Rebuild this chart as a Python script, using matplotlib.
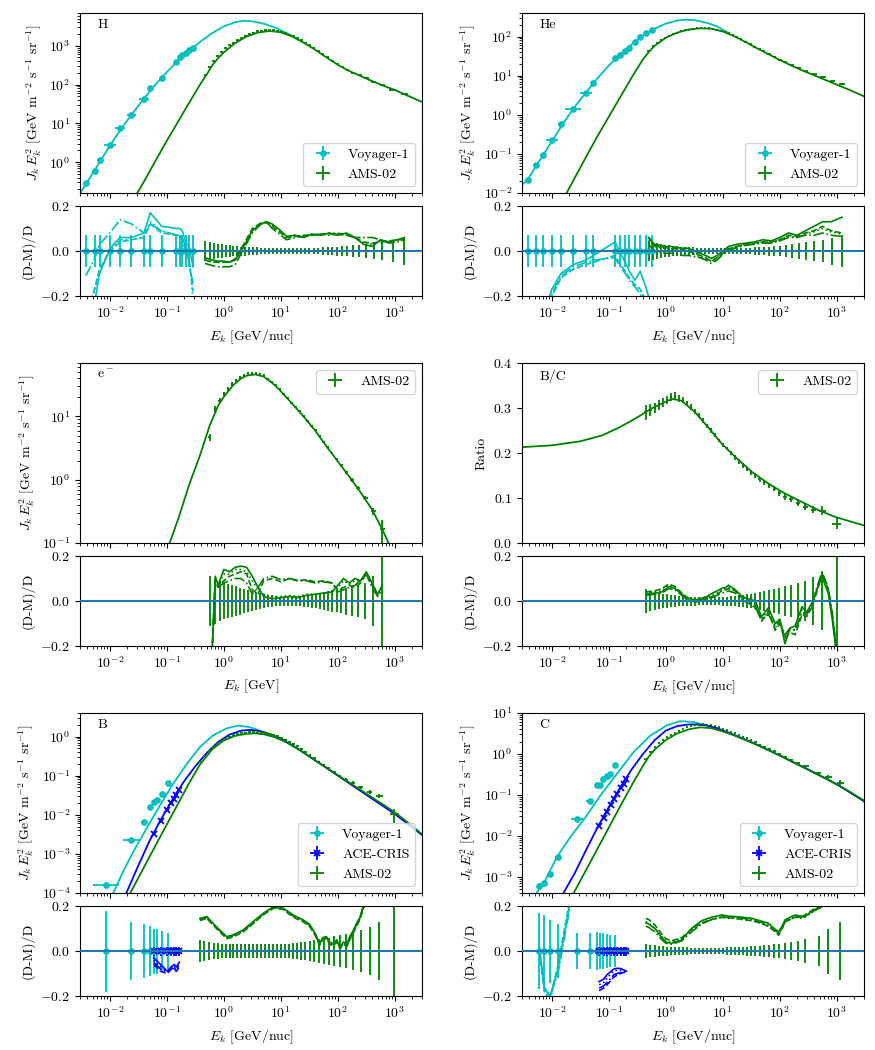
"""
Cosmic-ray spectra: data vs. propagation models, with (D-M)/D residuals
"""

import numpy as np
import matplotlib.pyplot as plt
from matplotlib import ticker

plt.rcParams.update({
    "font.family": "serif",
    "font.serif": ["cmr10"],
    "mathtext.fontset": "cm",
    "axes.formatter.use_mathtext": True,
    "font.size": 10,
})

VOY, ACE, AMS = "c", "b", "g"
MODEL_STYLES = ["-", "--", "-.", ":"]

# ---------------------------------------------------------------- H
H_voy_logE = [-2.42, -2.26, -2.18, -2.00, -1.82, -1.62, -1.40, -1.29, -1.09, -0.83, -0.77, -0.73, -0.67, -0.61, -0.54]
H_voy_logJ = [-0.54, -0.22, 0.06, 0.45, 0.88, 1.22, 1.64, 1.90, 2.18, 2.59, 2.70, 2.76, 2.82, 2.89, 2.93]
H_voy_err = [0.07] * 15
H_voy_dlogE = [0.05, 0.05, 0.04, 0.10, 0.09, 0.08, 0.08, 0.04, 0.05, 0.04, 0.03, 0.03, 0.03, 0.03, 0.03]
H_voy_res = [
    [-0.45, -0.22, -0.10, 0.01, 0.06, 0.06, 0.08, 0.17, 0.11, 0.10, 0.10, 0.09, 0.04, 0.02, -0.07],
    [-0.30, -0.16, -0.08, 0.00, 0.04, 0.05, 0.06, 0.12, 0.08, 0.07, 0.07, 0.05, 0.00, -0.04, -0.18],
    [-0.11, -0.03, 0.03, 0.08, 0.14, 0.12, 0.08, 0.12, 0.09, 0.07, 0.06, 0.06, 0.02, -0.05, -0.15],
    [-0.28, -0.17, -0.09, 0.00, 0.05, 0.05, 0.06, 0.13, 0.09, 0.07, 0.07, 0.06, 0.01, -0.03, -0.22],
]
H_voy_mod_logE = [-2.52, -2.4, -2.2, -2.0, -1.8, -1.6, -1.4, -1.2, -1.0, -0.8, -0.6, -0.4, -0.2, 0.0, 0.2, 0.35, 0.5, 0.7, 0.9, 1.1, 1.3]
H_voy_mod_logJ = [-0.80, -0.52, -0.05, 0.42, 0.86, 1.26, 1.64, 2.0, 2.32, 2.62, 2.88, 3.12, 3.33, 3.50, 3.61, 3.645, 3.63, 3.57, 3.47, 3.33, 3.17]

H_ams_logE = [-0.33, -0.25, -0.18, -0.11, -0.04, 0.03, 0.10, 0.17, 0.24, 0.31,
              0.38, 0.45, 0.52, 0.59, 0.66, 0.73, 0.80, 0.87, 0.94, 1.01,
              1.08, 1.15, 1.22, 1.29, 1.36, 1.43, 1.50, 1.58, 1.66, 1.74,
              1.82, 1.90, 1.99, 2.08, 2.17, 2.27, 2.38, 2.50, 2.63, 2.78, 2.96, 3.17]
H_ams_logJ = [2.24, 2.44, 2.60, 2.74, 2.85, 2.93, 3.01, 3.08, 3.14, 3.20,
              3.26, 3.30, 3.34, 3.37, 3.39, 3.40, 3.41, 3.40, 3.38, 3.36,
              3.33, 3.29, 3.25, 3.19, 3.14, 3.08, 3.02, 2.95, 2.87, 2.79,
              2.70, 2.62, 2.53, 2.45, 2.38, 2.31, 2.24, 2.16, 2.07, 1.98, 1.87, 1.75]
H_ams_err = [0.045, 0.04, 0.035, 0.03, 0.03, 0.028, 0.026, 0.024, 0.022, 0.02,
             0.02, 0.018, 0.017, 0.016, 0.015, 0.015, 0.014, 0.014, 0.013, 0.013,
             0.013, 0.013, 0.013, 0.013, 0.013, 0.013, 0.014, 0.014, 0.015, 0.016,
             0.017, 0.018, 0.02, 0.022, 0.024, 0.026, 0.028, 0.032, 0.036, 0.042, 0.05, 0.06]
H_ams_res_logE = [-0.33, -0.2, -0.1, 0.0, 0.1, 0.2, 0.35, 0.5, 0.65, 0.75, 0.85, 1.0, 1.1, 1.25,
                  1.4, 1.55, 1.7, 1.85, 2.0, 2.15, 2.3, 2.45, 2.6, 2.75, 2.9, 3.05, 3.17]
H_ams_res = [
    [-0.03, -0.04, -0.045, -0.045, -0.05, -0.04, 0.02, 0.09, 0.12, 0.13, 0.12, 0.09, 0.065, 0.07,
     0.06, 0.075, 0.07, 0.08, 0.07, 0.08, 0.06, 0.03, 0.02, 0.05, 0.04, 0.05, 0.06],
    [-0.04, -0.05, -0.05, -0.05, -0.05, -0.035, 0.03, 0.10, 0.125, 0.125, 0.11, 0.08, 0.06, 0.065,
     0.07, 0.07, 0.075, 0.075, 0.08, 0.07, 0.06, 0.04, 0.035, 0.04, 0.045, 0.05, 0.05],
    [-0.055, -0.065, -0.07, -0.07, -0.07, -0.06, 0.01, 0.08, 0.12, 0.13, 0.10, 0.07, 0.05, 0.06,
     0.065, 0.07, 0.075, 0.07, 0.075, 0.07, 0.06, 0.06, 0.06, 0.05, 0.035, 0.04, 0.05],
    [-0.04, -0.045, -0.05, -0.05, -0.05, -0.04, 0.025, 0.09, 0.12, 0.13, 0.115, 0.085, 0.06, 0.07,
     0.065, 0.075, 0.07, 0.08, 0.075, 0.075, 0.06, 0.035, 0.03, 0.045, 0.04, 0.05, 0.055],
]
H_ams_mod_logE = [-1.52, -1.4, -1.2, -1.0, -0.8, -0.6, -0.4, -0.3, -0.2, -0.1, 0.0, 0.2, 0.4, 0.6,
                  0.8, 1.0, 1.2, 1.4, 1.6, 1.8, 2.0, 2.2, 2.4, 2.6, 2.8, 3.0, 3.2, 3.48]
H_ams_mod_logJ = [-0.80, -0.50, 0.03, 0.55, 1.05, 1.55, 2.04, 2.26, 2.50, 2.68, 2.83, 3.07, 3.24, 3.34,
                  3.38, 3.35, 3.24, 3.08, 2.90, 2.70, 2.51, 2.35, 2.22, 2.09, 1.97, 1.86, 1.73, 1.55]

# ---------------------------------------------------------------- He
He_voy_logE = [-2.42, -2.28, -2.16, -2.00, -1.84, -1.62, -1.40, -1.27, -0.89, -0.80, -0.71, -0.64, -0.54, -0.45, -0.35, -0.25]
He_voy_logJ = [-1.66, -1.29, -1.03, -0.65, -0.24, 0.16, 0.56, 0.80, 1.44, 1.53, 1.63, 1.70, 1.85, 2.00, 2.09, 2.17]
He_voy_err = [0.07] * 16
He_voy_dlogE = [0.05, 0.05, 0.04, 0.10, 0.06, 0.14, 0.10, 0.05, 0.04, 0.03, 0.03, 0.03, 0.03, 0.03, 0.03, 0.03]
He_voy_res = [
    [-0.60, -0.45, -0.30, -0.17, -0.10, -0.06, -0.04, -0.02, 0.04, -0.01, -0.05, -0.09, -0.13, -0.09, -0.16, -0.25],
    [-0.60, -0.45, -0.32, -0.20, -0.12, -0.08, -0.06, -0.05, -0.02, -0.06, -0.09, -0.12, -0.15, -0.17, -0.22, -0.30],
    [-0.55, -0.42, -0.30, -0.19, -0.11, -0.07, -0.05, -0.04, -0.03, -0.07, -0.10, -0.13, -0.16, -0.19, -0.24, -0.32],
    [-0.58, -0.44, -0.31, -0.20, -0.12, -0.08, -0.06, -0.05, -0.02, -0.06, -0.09, -0.12, -0.15, -0.17, -0.22, -0.30],
]
He_voy_mod_logE = [-2.52, -2.4, -2.2, -2.0, -1.8, -1.6, -1.4, -1.2, -1.0, -0.8, -0.6, -0.4, -0.2, 0.0, 0.2, 0.35, 0.5, 0.7, 0.9, 1.1]
He_voy_mod_logJ = [-1.80, -1.60, -1.14, -0.68, -0.22, 0.20, 0.57, 0.93, 1.26, 1.55, 1.80, 2.02, 2.20, 2.33, 2.41, 2.43, 2.42, 2.36, 2.26, 2.09]

He_ams_logE = [-0.30, -0.22, -0.15, -0.08, -0.01, 0.06, 0.13, 0.20, 0.27, 0.34,
               0.41, 0.48, 0.55, 0.62, 0.69, 0.76, 0.83, 0.90, 0.97, 1.04,
               1.11, 1.18, 1.25, 1.32, 1.40, 1.48, 1.56, 1.64, 1.72, 1.81,
               1.90, 2.00, 2.10, 2.21, 2.33, 2.46, 2.60, 2.76, 2.92, 3.09]
He_ams_logJ = [1.63, 1.75, 1.84, 1.91, 1.97, 2.02, 2.06, 2.10, 2.13, 2.16,
               2.18, 2.20, 2.21, 2.22, 2.22, 2.21, 2.20, 2.18, 2.15, 2.12,
               2.08, 2.03, 1.98, 1.93, 1.87, 1.81, 1.74, 1.68, 1.62, 1.55,
               1.48, 1.41, 1.34, 1.27, 1.19, 1.11, 1.05, 0.96, 0.87, 0.78]
He_ams_err = [0.045, 0.04, 0.035, 0.03, 0.028, 0.026, 0.024, 0.022, 0.02, 0.018,
              0.017, 0.016, 0.015, 0.014, 0.014, 0.013, 0.013, 0.013, 0.013, 0.013,
              0.013, 0.013, 0.013, 0.014, 0.014, 0.015, 0.016, 0.017, 0.018, 0.02,
              0.022, 0.024, 0.027, 0.03, 0.034, 0.038, 0.043, 0.05, 0.06, 0.07]
He_ams_res_logE = [-0.30, -0.2, -0.1, 0.0, 0.1, 0.2, 0.3, 0.4, 0.5, 0.6, 0.7, 0.8, 0.9, 1.0,
                   1.1, 1.25, 1.4, 1.55, 1.7, 1.85, 2.0, 2.15, 2.3, 2.45, 2.6, 2.75, 2.9, 3.09]
He_ams_res = [
    [0.06, 0.03, 0.025, 0.02, 0.02, 0.015, 0.012, 0.012, 0.0, -0.01, -0.02, -0.033, -0.02, 0.0,
     0.02, 0.03, 0.035, 0.04, 0.05, 0.045, 0.06, 0.08, 0.07, 0.09, 0.11, 0.13, 0.13, 0.15],
    [0.06, 0.025, 0.02, 0.015, 0.01, 0.01, 0.005, 0.0, -0.01, -0.02, -0.03, -0.047, -0.03, -0.01,
     0.01, 0.02, 0.03, 0.035, 0.04, 0.04, 0.05, 0.07, 0.065, 0.08, 0.09, 0.11, 0.09, 0.08],
    [0.03, 0.0, -0.005, -0.01, -0.01, -0.015, -0.02, -0.02, -0.025, -0.03, -0.04, -0.055, -0.04, -0.015,
     0.005, 0.015, 0.025, 0.03, 0.035, 0.035, 0.045, 0.06, 0.06, 0.07, 0.07, 0.08, 0.07, 0.065],
    [0.05, 0.02, 0.015, 0.01, 0.005, 0.005, 0.0, -0.005, -0.015, -0.025, -0.035, -0.045, -0.03, -0.01,
     0.01, 0.02, 0.03, 0.035, 0.04, 0.04, 0.05, 0.065, 0.06, 0.075, 0.085, 0.10, 0.085, 0.075],
]
He_ams_mod_logE = [-1.74, -1.6, -1.4, -1.2, -1.0, -0.8, -0.6, -0.4, -0.3, -0.2, 0.0, 0.2, 0.4, 0.6,
                   0.8, 1.0, 1.2, 1.4, 1.6, 1.8, 2.0, 2.2, 2.4, 2.6, 2.8, 3.0, 3.2, 3.48]
He_ams_mod_logJ = [-2.0, -1.62, -1.08, -0.55, -0.05, 0.45, 0.95, 1.42, 1.60, 1.76, 1.97, 2.10, 2.18, 2.21,
                   2.20, 2.13, 2.01, 1.86, 1.70, 1.55, 1.40, 1.26, 1.13, 1.01, 0.89, 0.77, 0.65, 0.47]

# ---------------------------------------------------------------- electrons
e_ams_logE = [-0.25, -0.15, -0.07, 0.0, 0.07, 0.14, 0.21, 0.28, 0.35, 0.42,
              0.49, 0.56, 0.63, 0.70, 0.77, 0.84, 0.91, 0.98, 1.05, 1.12,
              1.19, 1.26, 1.33, 1.40, 1.47, 1.54, 1.61, 1.68, 1.75, 1.82,
              1.90, 1.98, 2.06, 2.15, 2.25, 2.36, 2.48, 2.62, 2.78]
e_ams_logJ = [0.67, 1.12, 1.25, 1.35, 1.44, 1.51, 1.57, 1.62, 1.65, 1.68,
              1.69, 1.69, 1.67, 1.65, 1.60, 1.55, 1.49, 1.43, 1.36, 1.29,
              1.22, 1.15, 1.08, 1.01, 0.93, 0.85, 0.78, 0.69, 0.60, 0.51,
              0.42, 0.32, 0.23, 0.12, 0.00, -0.13, -0.29, -0.50, -0.78]
e_ams_err = [0.11, 0.10, 0.09, 0.08, 0.075, 0.07, 0.065, 0.06, 0.055, 0.05,
             0.045, 0.04, 0.035, 0.03, 0.028, 0.025, 0.022, 0.02, 0.02, 0.02,
             0.02, 0.022, 0.024, 0.026, 0.028, 0.03, 0.033, 0.036, 0.04, 0.043,
             0.047, 0.05, 0.055, 0.06, 0.065, 0.07, 0.08, 0.11, 0.40]
e_ams_res_logE = [-0.25, -0.15, -0.1, 0.0, 0.1, 0.2, 0.3, 0.4, 0.5, 0.6, 0.7, 0.85, 1.0, 1.15,
                  1.3, 1.45, 1.6, 1.75, 1.9, 2.0, 2.1, 2.2, 2.3, 2.4, 2.5, 2.6, 2.7, 2.78]
e_ams_res = [
    [-0.5, 0.11, 0.07, 0.14, 0.13, 0.15, 0.155, 0.15, 0.11, 0.06, 0.02, 0.01, 0.015, 0.02,
     0.015, 0.025, 0.03, 0.035, 0.04, 0.07, 0.10, 0.08, 0.10, 0.09, 0.13, 0.08, 0.03, 0.07],
    [-0.5, 0.10, 0.06, 0.09, 0.11, 0.12, 0.13, 0.12, 0.05, 0.03, 0.09, 0.10, 0.085, 0.10,
     0.09, 0.095, 0.085, 0.09, 0.08, 0.05, 0.06, 0.07, 0.06, 0.08, 0.12, 0.07, 0.03, 0.06],
    [-0.5, 0.09, 0.06, 0.08, 0.09, 0.10, 0.10, 0.08, 0.03, 0.06, 0.10, 0.11, 0.095, 0.10,
     0.09, 0.09, 0.08, 0.085, 0.08, 0.04, 0.05, 0.06, 0.07, 0.09, 0.12, 0.06, 0.02, 0.05],
    [-0.5, 0.10, 0.07, 0.12, 0.12, 0.14, 0.14, 0.13, 0.09, 0.05, 0.03, 0.02, 0.02, 0.025,
     0.02, 0.03, 0.03, 0.035, 0.04, 0.06, 0.09, 0.075, 0.09, 0.09, 0.125, 0.08, 0.03, 0.065],
]
e_mod_logE = [-0.95, -0.8, -0.6, -0.42, -0.25, -0.1, 0.0, 0.16, 0.3, 0.4, 0.55, 0.7, 0.85, 1.0,
              1.2, 1.4, 1.6, 1.8, 2.0, 2.2, 2.4, 2.6, 2.8, 2.9]
e_mod_logJ = [-1.0, -0.62, -0.06, 0.38, 0.85, 1.17, 1.31, 1.49, 1.60, 1.645, 1.665, 1.63, 1.53, 1.40,
              1.20, 1.00, 0.78, 0.53, 0.29, 0.05, -0.20, -0.47, -0.82, -1.02]

# ---------------------------------------------------------------- B/C
BC_logE = [-0.35, -0.27, -0.19, -0.12, -0.05, 0.02, 0.09, 0.16, 0.23, 0.30,
           0.37, 0.44, 0.51, 0.58, 0.65, 0.72, 0.79, 0.86, 0.93, 1.00,
           1.07, 1.14, 1.21, 1.28, 1.35, 1.42, 1.49, 1.57, 1.65, 1.73,
           1.81, 1.90, 1.99, 2.09, 2.20, 2.32, 2.45, 2.59, 2.74, 3.00]
BC_ratio = [0.290, 0.296, 0.300, 0.306, 0.312, 0.318, 0.324, 0.326, 0.322, 0.317,
            0.310, 0.302, 0.292, 0.283, 0.272, 0.260, 0.250, 0.240, 0.228, 0.218,
            0.210, 0.200, 0.190, 0.181, 0.172, 0.165, 0.157, 0.150, 0.142, 0.135,
            0.128, 0.121, 0.112, 0.103, 0.098, 0.090, 0.080, 0.074, 0.072, 0.043]
BC_err = [0.055, 0.045, 0.04, 0.035, 0.032, 0.03, 0.028, 0.026, 0.024, 0.022,
          0.02, 0.02, 0.02, 0.018, 0.018, 0.018, 0.018, 0.018, 0.018, 0.02,
          0.02, 0.022, 0.024, 0.026, 0.028, 0.03, 0.033, 0.036, 0.04, 0.044,
          0.048, 0.053, 0.058, 0.065, 0.072, 0.08, 0.09, 0.105, 0.13, 0.30]
BC_res_logE = [-0.35, -0.2, -0.07, 0.05, 0.16, 0.28, 0.40, 0.52, 0.63, 0.72, 0.81, 0.9, 0.98, 1.05,
               1.10, 1.16, 1.22, 1.28, 1.33, 1.45, 1.57, 1.68, 1.80, 1.92, 2.0, 2.09, 2.18, 2.27,
               2.39, 2.47, 2.56, 2.65, 2.74, 2.85, 2.92, 3.0]
BC_res = [
    [0.03, 0.035, 0.04, 0.064, 0.056, 0.03, 0.012, 0.005, 0.012, 0.02, 0.034, 0.045, 0.056, 0.06,
     0.07, 0.06, 0.05, 0.035, 0.02, 0.01, 0.0, -0.07, -0.03, -0.10, -0.08, -0.19, -0.12, -0.11,
     -0.025, -0.05, -0.01, 0.05, 0.108, 0.034, -0.08, -0.25],
    [0.04, 0.045, 0.055, 0.075, 0.065, 0.035, 0.01, 0.0, 0.005, 0.01, 0.02, 0.03, 0.045, 0.05,
     0.055, 0.05, 0.045, 0.03, 0.015, 0.0, -0.02, -0.09, -0.05, -0.13, -0.10, -0.16, -0.14, -0.15,
     -0.06, -0.07, -0.03, 0.04, 0.12, 0.05, -0.06, -0.23],
    [0.025, 0.03, 0.035, 0.055, 0.05, 0.025, 0.0, -0.005, 0.0, 0.005, 0.015, 0.025, 0.035, 0.04,
     0.045, 0.04, 0.035, 0.02, 0.005, -0.01, -0.03, -0.08, -0.06, -0.11, -0.09, -0.15, -0.12, -0.13,
     -0.05, -0.06, -0.02, 0.06, 0.13, 0.06, -0.05, -0.22],
    [0.035, 0.04, 0.045, 0.07, 0.06, 0.03, 0.005, 0.0, 0.01, 0.015, 0.025, 0.035, 0.05, 0.055,
     0.06, 0.055, 0.045, 0.03, 0.015, 0.0, -0.015, -0.08, -0.04, -0.12, -0.09, -0.17, -0.13, -0.13,
     -0.04, -0.06, -0.02, 0.05, 0.115, 0.04, -0.07, -0.24],
]
BC_mod_logE = [-2.52, -2.0, -1.5, -1.12, -0.83, -0.54, -0.25, 0.05, 0.13, 0.28, 0.51, 0.75, 0.98,
               1.22, 1.51, 1.80, 2.09, 2.39, 2.68, 2.97, 3.26, 3.48]
BC_mod_ratio = [0.213, 0.217, 0.226, 0.239, 0.256, 0.276, 0.299, 0.317, 0.320, 0.316, 0.291, 0.256, 0.221,
                0.191, 0.158, 0.132, 0.110, 0.091, 0.073, 0.058, 0.047, 0.039]

# ---------------------------------------------------------------- B
B_voy_logE = [-2.06, -1.62, -1.40, -1.30, -1.23, -1.17, -1.09, -0.98]
B_voy_logJ = [-3.79, -2.64, -2.19, -1.80, -1.68, -1.63, -1.46, -1.18]
B_voy_err = [0.18, 0.13, 0.12, 0.11, 0.10, 0.10, 0.09, 0.08]
B_voy_dlogE = [0.23, 0.14, 0.06, 0.03, 0.03, 0.03, 0.03, 0.03]
B_voy_mod_logE = [-1.94, -1.77, -1.59, -1.36, -1.12, -0.89, -0.65, -0.42, -0.19, 0.05, 0.25, 0.46, 0.63, 0.8, 0.95]
B_voy_mod_logJ = [-4.0, -3.46, -2.95, -2.36, -1.76, -1.21, -0.70, -0.27, 0.03, 0.21, 0.28, 0.24, 0.15, 0.05, -0.05]

B_ace_logE = [-1.23, -1.11, -0.99, -0.92, -0.87, -0.83, -0.78]
B_ace_logJ = [-2.49, -2.17, -1.88, -1.70, -1.59, -1.49, -1.36]
B_ace_err = [0.02] * 7
B_ace_res = [
    [-0.03, -0.06, -0.09, -0.07, -0.06, -0.07, -0.05],
    [-0.06, -0.09, -0.10, -0.08, -0.085, -0.09, -0.07],
    [-0.05, -0.08, -0.095, -0.075, -0.08, -0.08, -0.06],
    [-0.04, -0.07, -0.09, -0.07, -0.07, -0.08, -0.06],
]
B_ace_mod_logE = [-1.71, -1.5, -1.3, -1.1, -0.9, -0.7, -0.5, -0.3, -0.1, 0.1, 0.3, 0.45, 0.6, 0.8, 1.0,
                  1.3, 1.5, 1.9, 2.5, 3.0, 3.48]
B_ace_mod_logJ = [-4.0, -3.30, -2.66, -2.11, -1.61, -1.15, -0.76, -0.42, -0.14, 0.05, 0.15, 0.17, 0.15, 0.07,
                  -0.05, -0.31, -0.51, -0.90, -1.49, -1.98, -2.52]

B_ams_logE = [-0.42, -0.34, -0.26, -0.18, -0.11, -0.04, 0.03, 0.10, 0.17, 0.24,
              0.31, 0.38, 0.45, 0.52, 0.59, 0.66, 0.73, 0.80, 0.87, 0.94,
              1.01, 1.08, 1.15, 1.22, 1.29, 1.36, 1.43, 1.51, 1.59, 1.67,
              1.75, 1.84, 1.93, 2.03, 2.14, 2.26, 2.40, 2.56, 2.72, 2.99]
B_ams_logJ = [-0.65, -0.50, -0.38, -0.27, -0.18, -0.11, -0.05, -0.01, 0.03, 0.06,
              0.08, 0.10, 0.11, 0.11, 0.11, 0.10, 0.09, 0.07, 0.04, 0.01,
              -0.03, -0.08, -0.13, -0.19, -0.25, -0.32, -0.39, -0.47, -0.56, -0.64,
              -0.72, -0.81, -0.91, -1.00, -1.10, -1.18, -1.30, -1.42, -1.52, -1.99]
B_ams_err = [0.05, 0.045, 0.04, 0.037, 0.035, 0.033, 0.031, 0.03, 0.03, 0.03,
             0.03, 0.03, 0.03, 0.03, 0.03, 0.03, 0.03, 0.03, 0.03, 0.03,
             0.031, 0.032, 0.033, 0.035, 0.037, 0.039, 0.042, 0.045, 0.048, 0.052,
             0.056, 0.06, 0.065, 0.07, 0.077, 0.085, 0.095, 0.105, 0.13, 0.40]
B_ams_res_logE = [-0.42, -0.30, -0.13, 0.05, 0.16, 0.34, 0.51, 0.69, 0.87, 1.04, 1.22, 1.39, 1.50, 1.57,
                  1.62, 1.68, 1.74, 1.80, 1.86, 1.92, 1.98, 2.04, 2.10, 2.16, 2.21, 2.27, 2.33, 2.39,
                  2.44, 2.50]
B_ams_res = [
    [0.145, 0.153, 0.108, 0.064, 0.071, 0.093, 0.13, 0.167, 0.197, 0.19, 0.16, 0.138, 0.12, 0.093,
     0.07, 0.034, 0.06, 0.064, 0.04, 0.031, 0.05, 0.019, 0.04, 0.03, 0.064, 0.09, 0.123, 0.15, 0.197, 0.227],
    [0.135, 0.145, 0.10, 0.055, 0.062, 0.085, 0.12, 0.16, 0.19, 0.185, 0.15, 0.13, 0.11, 0.085,
     0.06, 0.025, 0.05, 0.055, 0.03, 0.022, 0.04, 0.01, 0.03, 0.02, 0.05, 0.08, 0.11, 0.14, 0.185, 0.215],
    [0.14, 0.15, 0.105, 0.06, 0.068, 0.09, 0.125, 0.165, 0.195, 0.19, 0.155, 0.135, 0.115, 0.09,
     0.065, 0.03, 0.055, 0.06, 0.035, 0.028, 0.045, 0.015, 0.035, 0.025, 0.06, 0.085, 0.12, 0.145, 0.19, 0.22],
    [0.14, 0.148, 0.104, 0.06, 0.066, 0.088, 0.125, 0.163, 0.193, 0.188, 0.155, 0.133, 0.115, 0.088,
     0.065, 0.03, 0.055, 0.06, 0.035, 0.026, 0.045, 0.015, 0.035, 0.025, 0.057, 0.085, 0.115, 0.145, 0.19, 0.22],
]
B_ams_mod_logE = [-1.64, -1.4, -1.2, -1.0, -0.8, -0.6, -0.42, -0.2, 0.0, 0.2, 0.4, 0.55, 0.7, 0.9,
                  1.1, 1.3, 1.5, 1.7, 1.9, 2.1, 2.3, 2.5, 2.7, 2.9, 3.1, 3.3, 3.48]
B_ams_mod_logJ = [-4.0, -3.34, -2.79, -2.25, -1.71, -1.17, -0.72, -0.32, -0.10, 0.02, 0.07, 0.08, 0.06, -0.02,
                  -0.15, -0.32, -0.51, -0.70, -0.89, -1.08, -1.27, -1.46, -1.65, -1.84, -2.05, -2.28, -2.50]

# ---------------------------------------------------------------- C
C_voy_logE = [-2.22, -2.13, -2.03, -1.89, -1.55, -1.33, -1.20, -1.15, -1.10, -1.04, -0.98, -0.89]
C_voy_logJ = [-3.22, -3.16, -2.93, -2.53, -1.60, -1.16, -0.77, -0.76, -0.62, -0.54, -0.49, -0.28]
C_voy_err = [0.17, 0.16, 0.14, 0.12, 0.08, 0.08, 0.085, 0.08, 0.08, 0.075, 0.07, 0.07]
C_voy_dlogE = [0.02, 0.02, 0.03, 0.05, 0.12, 0.07, 0.03, 0.03, 0.03, 0.03, 0.03, 0.03]
C_voy_res = [
    [0.02, -0.16, -0.20, -0.08, 0.40, 0.6, 0.6, 0.6, 0.6, 0.6, 0.6, 0.6],
    [0.0, -0.18, -0.21, -0.06, 0.42, 0.6, 0.6, 0.6, 0.6, 0.6, 0.6, 0.6],
    [0.01, -0.17, -0.20, -0.10, 0.38, 0.6, 0.6, 0.6, 0.6, 0.6, 0.6, 0.6],
    [0.0, -0.18, -0.22, -0.07, 0.41, 0.6, 0.6, 0.6, 0.6, 0.6, 0.6, 0.6],
]
C_voy_mod_logE = [-2.32, -2.27, -2.12, -1.91, -1.68, -1.39, -1.15, -0.86, -0.57, -0.27, 0.02, 0.25, 0.49, 0.7]
C_voy_mod_logJ = [-3.45, -3.40, -3.10, -2.52, -2.04, -1.51, -1.02, -0.49, 0.04, 0.45, 0.70, 0.80, 0.78, 0.70]

C_ace_logE = [-1.17, -1.09, -1.03, -0.96, -0.91, -0.85, -0.79, -0.74, -0.69]
C_ace_logJ = [-1.76, -1.57, -1.42, -1.24, -1.11, -0.98, -0.84, -0.73, -0.62]
C_ace_err = [0.02] * 9
C_ace_res = [
    [-0.136, -0.125, -0.105, -0.09, -0.08, -0.077, -0.078, -0.084, -0.09],
    [-0.176, -0.165, -0.15, -0.13, -0.115, -0.107, -0.10, -0.095, -0.095],
    [-0.165, -0.155, -0.14, -0.12, -0.105, -0.10, -0.095, -0.09, -0.092],
    [-0.15, -0.14, -0.12, -0.10, -0.09, -0.085, -0.085, -0.088, -0.09],
]
C_ace_mod_logE = [-1.80, -1.6, -1.4, -1.2, -1.0, -0.8, -0.6, -0.4, -0.2, 0.0, 0.2, 0.4, 0.55, 0.7, 0.9,
                  1.1, 1.5, 2.0, 2.5, 3.0, 3.48]
C_ace_mod_logJ = [-3.41, -2.92, -2.35, -1.80, -1.30, -0.82, -0.38, 0.0, 0.33, 0.57, 0.68, 0.72, 0.72, 0.70, 0.63,
                  0.52, 0.29, -0.04, -0.38, -0.74, -1.16]

C_ams_logE = [-0.35, -0.27, -0.19, -0.12, -0.05, 0.02, 0.09, 0.16, 0.23, 0.30,
              0.37, 0.44, 0.51, 0.58, 0.65, 0.72, 0.79, 0.86, 0.93, 1.00,
              1.07, 1.14, 1.21, 1.28, 1.35, 1.42, 1.49, 1.57, 1.65, 1.73,
              1.81, 1.90, 1.99, 2.09, 2.20, 2.32, 2.45, 2.68, 2.85, 3.06]
C_ams_logJ = [-0.12, 0.05, 0.17, 0.27, 0.35, 0.41, 0.47, 0.52, 0.57, 0.61,
              0.65, 0.68, 0.70, 0.71, 0.72, 0.71, 0.70, 0.68, 0.65, 0.61,
              0.58, 0.54, 0.50, 0.46, 0.42, 0.38, 0.33, 0.28, 0.23, 0.18,
              0.13, 0.06, 0.0, -0.07, -0.14, -0.22, -0.29, -0.46, -0.56, -0.70]
C_ams_err = [0.03, 0.028, 0.026, 0.024, 0.022, 0.02, 0.019, 0.018, 0.017, 0.016,
             0.016, 0.015, 0.015, 0.015, 0.015, 0.015, 0.015, 0.015, 0.015, 0.015,
             0.016, 0.016, 0.017, 0.018, 0.019, 0.02, 0.021, 0.022, 0.024, 0.026,
             0.028, 0.03, 0.033, 0.036, 0.04, 0.045, 0.052, 0.065, 0.10, 0.13]
C_ams_res_logE = [-0.35, -0.30, -0.19, -0.07, 0.0, 0.1, 0.28, 0.45, 0.63, 0.8, 0.98, 1.1, 1.22, 1.35,
                  1.51, 1.65, 1.80, 1.90, 1.98, 2.04, 2.09, 2.18, 2.27, 2.36, 2.44, 2.53, 2.62, 2.70, 2.77]
C_ams_res = [
    [0.125, 0.12, 0.10, 0.06, 0.04, 0.034, 0.05, 0.10, 0.135, 0.15, 0.16, 0.155, 0.153, 0.15,
     0.145, 0.135, 0.123, 0.10, 0.086, 0.11, 0.138, 0.15, 0.16, 0.155, 0.153, 0.17, 0.182, 0.19, 0.205],
    [0.145, 0.14, 0.115, 0.075, 0.055, 0.045, 0.06, 0.095, 0.125, 0.14, 0.15, 0.148, 0.145, 0.14,
     0.135, 0.125, 0.11, 0.09, 0.07, 0.10, 0.13, 0.14, 0.15, 0.15, 0.16, 0.175, 0.19, 0.2, 0.21],
    [0.11, 0.105, 0.085, 0.05, 0.035, 0.03, 0.045, 0.085, 0.12, 0.14, 0.15, 0.15, 0.15, 0.145,
     0.14, 0.13, 0.115, 0.095, 0.08, 0.105, 0.13, 0.145, 0.155, 0.15, 0.155, 0.17, 0.185, 0.195, 0.21],
    [0.13, 0.125, 0.10, 0.065, 0.045, 0.04, 0.055, 0.09, 0.125, 0.14, 0.15, 0.145, 0.145, 0.14,
     0.135, 0.125, 0.11, 0.09, 0.075, 0.10, 0.125, 0.14, 0.15, 0.145, 0.15, 0.165, 0.18, 0.19, 0.205],
]
C_ams_mod_logE = [-1.62, -1.4, -1.2, -1.0, -0.8, -0.6, -0.4, -0.3, -0.2, 0.0, 0.2, 0.4, 0.6, 0.8,
                  1.0, 1.2, 1.4, 1.6, 1.8, 2.0, 2.2, 2.4, 2.6, 2.8, 3.0, 3.2, 3.48]
C_ams_mod_logJ = [-3.41, -2.84, -2.32, -1.80, -1.28, -0.77, -0.29, -0.07, 0.10, 0.34, 0.50, 0.60, 0.65, 0.63,
                  0.55, 0.45, 0.34, 0.22, 0.10, -0.04, -0.18, -0.32, -0.46, -0.60, -0.75, -0.90, -1.14]

DECADES = [1e-2, 1e-1, 1e0, 1e1, 1e2, 1e3]


def bin_xerr(logE, frac=0.6):
    """Horizontal error bars covering part of the way to the neighbouring bins."""
    x = np.asarray(logE, float)
    mid = 0.5 * (x[1:] + x[:-1])
    lo = np.concatenate([[2 * x[0] - mid[0]], mid])
    hi = np.concatenate([mid, [2 * x[-1] - mid[-1]]])
    lo = x - frac * (x - lo)
    hi = x + frac * (hi - x)
    E = 10 ** x
    return np.vstack([E - 10 ** lo, 10 ** hi - E])


def dex_xerr(logE, dlog):
    """Horizontal error bars given as half-widths in dex."""
    E = 10 ** np.asarray(logE, float)
    d = np.asarray(dlog, float)
    return np.vstack([E - E / 10 ** d, E * 10 ** d - E])


def dataset(label, color, fmt, logE, y, err, xerr, res_logE=None, res=None):
    return dict(label=label, color=color, fmt=fmt, logE=logE, y=y, err=err,
                xerr=xerr, res_logE=res_logE, res=res)


def draw(ax, axr, models, datasets, ylog=True):
    """Model curves + data in the top axes, (D-M)/D in the bottom axes."""
    for logE, y, color in models:
        yv = 10 ** np.asarray(y) if ylog else np.asarray(y)
        ax.plot(10 ** np.asarray(logE), yv, color=color, lw=1.3, zorder=2)

    for d in datasets:
        E = 10 ** np.asarray(d["logE"])
        y = 10 ** np.asarray(d["y"]) if ylog else np.asarray(d["y"])
        rel = np.asarray(d["err"])
        ms = 3.5 if d["fmt"] == "o" else 5
        kw = dict(fmt=d["fmt"], color=d["color"], ms=ms, mew=1.3, elinewidth=1.3, capsize=0)
        ax.errorbar(E, y, yerr=y * rel, xerr=d["xerr"], label=d["label"], zorder=3, **kw)
        axr.errorbar(E, np.zeros_like(E), yerr=rel, zorder=2, **kw)
        if d["res"] is not None:
            rE = 10 ** np.asarray(d["res_logE"])
            for row, ls in zip(d["res"], MODEL_STYLES):
                axr.plot(rE, row, color=d["color"], ls=ls, lw=1.2, zorder=2.5)

    axr.axhline(0, color="C0", lw=1.5, zorder=3)


def style(ax, axr, tag, ylim, ylog, ylabel, xlabel, legend_loc):
    for a in (ax, axr):
        a.set_xscale("log")
        a.set_xlim(3e-3, 3e3)
        a.xaxis.set_major_locator(ticker.FixedLocator(DECADES))
        a.xaxis.set_minor_locator(ticker.LogLocator(base=10, subs=np.arange(2, 10), numticks=12))
        a.xaxis.set_minor_formatter(ticker.NullFormatter())
    ax.tick_params(labelbottom=False)

    if ylog:
        ax.set_yscale("log")
        ax.yaxis.set_major_locator(ticker.LogLocator(base=10, numticks=12))
        ax.yaxis.set_minor_locator(ticker.LogLocator(base=10, subs=np.arange(2, 10), numticks=12))
        ax.yaxis.set_minor_formatter(ticker.NullFormatter())
    else:
        ax.set_yticks([0.0, 0.1, 0.2, 0.3, 0.4])
    ax.set_ylim(*ylim)
    ax.set_ylabel(ylabel)

    axr.set_ylim(-0.2, 0.2)
    axr.set_yticks([-0.2, 0.0, 0.2])
    axr.set_ylabel("(D-M)/D")
    axr.set_xlabel(xlabel)

    ax.text(0.05, 0.965, tag, transform=ax.transAxes, ha="left", va="top")
    ax.legend(loc=legend_loc, fontsize=10)


fig = plt.figure(figsize=(8.75, 10.5), dpi=100)
FW, FH = 875.0, 1050.0


def panel_axes(x_px, top_px):
    ax = fig.add_axes([x_px / FW, 1 - (top_px + 180) / FH, 342 / FW, 180 / FH])
    axr = fig.add_axes([x_px / FW, 1 - (top_px + 193 + 90) / FH, 342 / FW, 90 / FH])
    return ax, axr


FLUX = r"$J_k\,E_k^2$ [GeV m$^{-2}$ s$^{-1}$ sr$^{-1}$]"
XNUC = r"$E_k$ [GeV/nuc]"

# H
ax, axr = panel_axes(80, 13)
draw(ax, axr,
     [(H_voy_mod_logE, H_voy_mod_logJ, VOY), (H_ams_mod_logE, H_ams_mod_logJ, AMS)],
     [dataset("Voyager-1", VOY, "o", H_voy_logE, H_voy_logJ, H_voy_err,
              dex_xerr(H_voy_logE, H_voy_dlogE), H_voy_logE, H_voy_res),
      dataset("AMS-02", AMS, "none", H_ams_logE, H_ams_logJ, H_ams_err,
              bin_xerr(H_ams_logE), H_ams_res_logE, H_ams_res)])
style(ax, axr, "H", (0.16, 7000), True, FLUX, XNUC, "lower right")

# He
ax, axr = panel_axes(522, 13)
draw(ax, axr,
     [(He_voy_mod_logE, He_voy_mod_logJ, VOY), (He_ams_mod_logE, He_ams_mod_logJ, AMS)],
     [dataset("Voyager-1", VOY, "o", He_voy_logE, He_voy_logJ, He_voy_err,
              dex_xerr(He_voy_logE, He_voy_dlogE), He_voy_logE, He_voy_res),
      dataset("AMS-02", AMS, "none", He_ams_logE, He_ams_logJ, He_ams_err,
              bin_xerr(He_ams_logE), He_ams_res_logE, He_ams_res)])
style(ax, axr, "He", (1e-2, 400), True, FLUX, XNUC, "lower right")

# electrons
ax, axr = panel_axes(80, 363)
draw(ax, axr,
     [(e_mod_logE, e_mod_logJ, AMS)],
     [dataset("AMS-02", AMS, "none", e_ams_logE, e_ams_logJ, e_ams_err,
              bin_xerr(e_ams_logE), e_ams_res_logE, e_ams_res)])
style(ax, axr, r"e$^-$", (0.1, 70), True, FLUX, r"$E_k$ [GeV]", "upper right")

# B/C
ax, axr = panel_axes(522, 363)
draw(ax, axr,
     [(BC_mod_logE, BC_mod_ratio, AMS)],
     [dataset("AMS-02", AMS, "none", BC_logE, BC_ratio, BC_err,
              bin_xerr(BC_logE), BC_res_logE, BC_res)],
     ylog=False)
style(ax, axr, "B/C", (0.0, 0.4), False, "Ratio", XNUC, "upper right")

# B
ax, axr = panel_axes(80, 713)
draw(ax, axr,
     [(B_voy_mod_logE, B_voy_mod_logJ, VOY), (B_ace_mod_logE, B_ace_mod_logJ, ACE),
      (B_ams_mod_logE, B_ams_mod_logJ, AMS)],
     [dataset("Voyager-1", VOY, "o", B_voy_logE, B_voy_logJ, B_voy_err,
              dex_xerr(B_voy_logE, B_voy_dlogE)),
      dataset("ACE-CRIS", ACE, "x", B_ace_logE, B_ace_logJ, B_ace_err,
              dex_xerr(B_ace_logE, [0.02] * len(B_ace_logE)), B_ace_logE, B_ace_res),
      dataset("AMS-02", AMS, "none", B_ams_logE, B_ams_logJ, B_ams_err,
              bin_xerr(B_ams_logE), B_ams_res_logE, B_ams_res)])
style(ax, axr, "B", (1e-4, 4), True, FLUX, XNUC, "lower right")

# C
ax, axr = panel_axes(522, 713)
draw(ax, axr,
     [(C_voy_mod_logE, C_voy_mod_logJ, VOY), (C_ace_mod_logE, C_ace_mod_logJ, ACE),
      (C_ams_mod_logE, C_ams_mod_logJ, AMS)],
     [dataset("Voyager-1", VOY, "o", C_voy_logE, C_voy_logJ, C_voy_err,
              dex_xerr(C_voy_logE, C_voy_dlogE), C_voy_logE, C_voy_res),
      dataset("ACE-CRIS", ACE, "x", C_ace_logE, C_ace_logJ, C_ace_err,
              dex_xerr(C_ace_logE, [0.02] * len(C_ace_logE)), C_ace_logE, C_ace_res),
      dataset("AMS-02", AMS, "none", C_ams_logE, C_ams_logJ, C_ams_err,
              bin_xerr(C_ams_logE), C_ams_res_logE, C_ams_res)])
style(ax, axr, "C", (4e-4, 10), True, FLUX, XNUC, "lower right")

fig.savefig("out.png", dpi=100)
